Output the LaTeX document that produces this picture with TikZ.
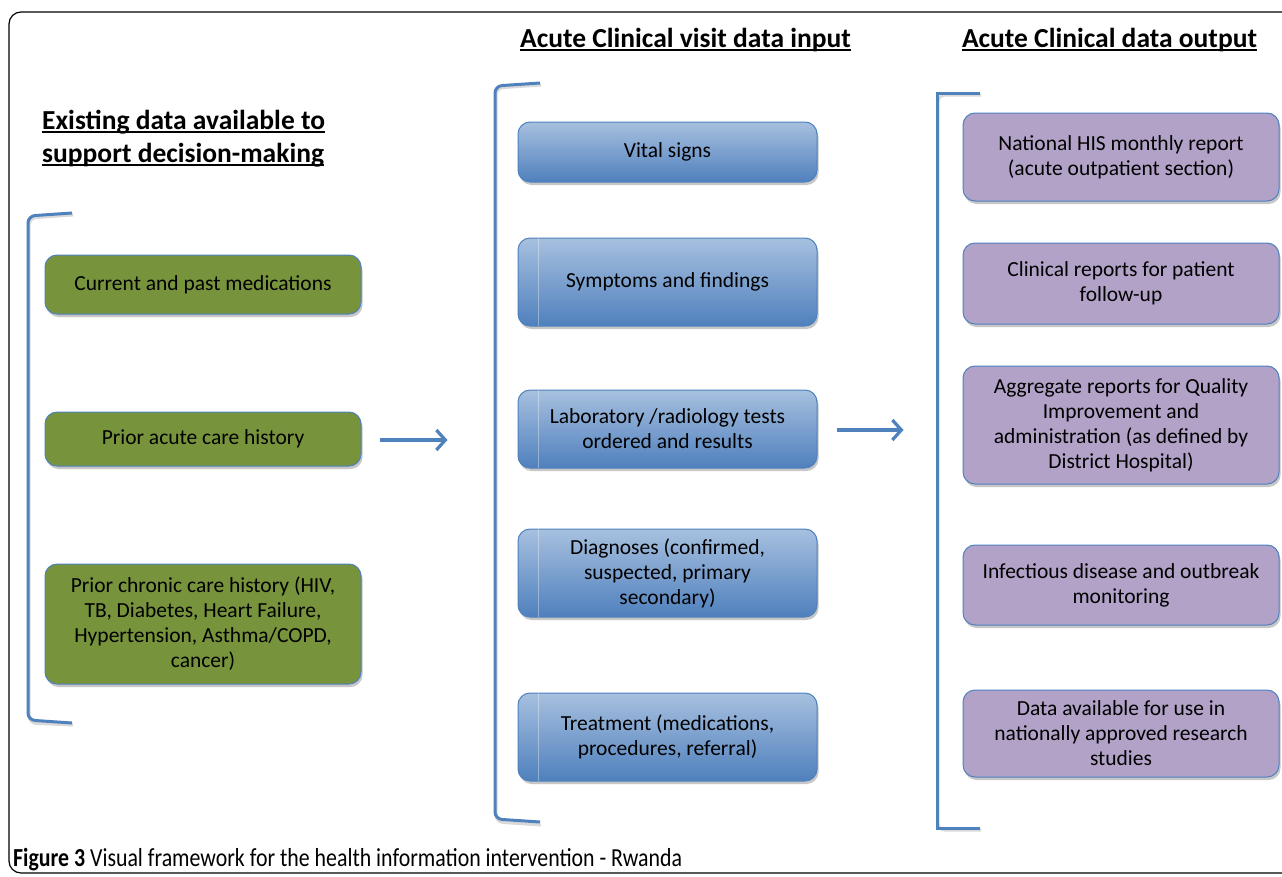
\documentclass[tikz,border=0pt]{standalone}
\usepackage{fontspec}
\setmainfont{Carlito}
\newfontfamily\capfont[FakeStretch=0.84]{Carlito}
\usetikzlibrary{arrows.meta,shadows,calc}
\definecolor{gfill}{HTML}{77933C}
\definecolor{pfill}{HTML}{B2A2C7}
\definecolor{btop}{HTML}{A7C0DF}
\definecolor{bbot}{HTML}{4F80BD}
\definecolor{bord}{HTML}{4F81BD}
\definecolor{brk}{HTML}{4F81BD}
\newcommand\ulin[1]{\setbox0\hbox{#1}\rlap{\rule[-3.5pt]{\wd0}{2pt}}\box0}
\begin{document}
\begin{tikzpicture}[x=1pt,y=-1pt,
  box/.style={rounded corners=12pt, draw=bord, line width=1pt, align=center,
    font=\fontsize{21.5}{25}\selectfont, inner sep=0pt, text=black,
    drop shadow={shadow xshift=1.5pt, shadow yshift=-3pt, fill=black!22, opacity=1}},
  gbox/.style={box, fill=gfill, minimum width=316pt},
  bbox/.style={box, top color=btop, bottom color=bbot, minimum width=299pt},
  pbox/.style={box, fill=pfill, minimum width=316pt},
  head/.style={font=\fontsize{27.5}{32}\selectfont\bfseries, inner sep=0pt},
  brack/.style={draw=brk, line width=3pt, rounded corners=7pt},
  brshadow/.style={draw=black!15, line width=3pt, rounded corners=7pt},
  arr/.style={draw=brk, line width=3.2pt, -{Straight Barb[length=9pt,width=20pt,line width=3.2pt]}}
]
\useasboundingbox (0,0) rectangle (1282,876);
\fill[white] (0,0) rectangle (1282,876);
% frame
\draw[line width=1.2pt, rounded corners=12pt] (9,12) rectangle (1300,873);

% headings
\node[head, anchor=base west] (h1) at (42,129) {\ulin{Existing data available to}};
\node[head, anchor=base west] (h2) at (42,162) {\ulin{support decision-making}};
\node[head, anchor=base] (h3) at (685.5,47) {\ulin{Acute Clinical visit data input}};
\node[head, anchor=base] (h4) at (1109.5,47) {\ulin{Acute Clinical data output}};

% brackets (shadows first)
\draw[brshadow] (73,215) -- (29,218) -- (29,723) -- (73,725);
\draw[brack] (72,213) -- (28,216) -- (28,720) -- (72,723);
\draw[brshadow] (541,85) -- (496,88) -- (496,822) -- (541,825);
\draw[brack] (540,83) -- (495,86) -- (495,819) -- (540,822);
\draw[brshadow] (981,95) -- (938,95) -- (938,830) -- (981,830);
\draw[brack, rounded corners=0pt] (980,93) -- (937,93) -- (937,828) -- (980,828);

% green boxes
\node[gbox, minimum height=59pt] (g1) at (203,284.5) {Current and past medications};
\node[gbox, minimum height=54pt] (g2) at (203,439) {Prior acute care history};
\node[gbox, minimum height=120pt] (g3) at (203,624) {Prior chronic care history (HIV,\\TB, Diabetes, Heart Failure,\\Hypertension, Asthma/COPD,\\cancer)};

% blue boxes
\node[bbox, minimum height=60pt] (b1) at (667.5,152) {Vital signs};
\node[bbox, minimum height=88pt] (b2) at (667.5,282) {Symptoms and findings};
\node[bbox, minimum height=78pt] (b3) at (667.5,429) {Laboratory /radiology tests\\ordered and results};
\node[bbox, minimum height=88pt] (b4) at (667.5,573) {Diagnoses (confirmed,\\suspected, primary\\secondary)};
\node[bbox, minimum height=88pt] (b5) at (667.5,737) {Treatment (medications,\\procedures, referral)};
\foreach \b in {b2,b3,b4,b5}{
  \draw[white, opacity=0.35, line width=0.7pt] ($(\b.north west)+(21,0.5)$) -- ($(\b.south west)+(21,-0.5)$);
}

% purple boxes
\node[pbox, minimum height=88pt] (p1) at (1121,157) {National HIS monthly report\\(acute outpatient section)};
\node[pbox, minimum height=81pt] (p2) at (1121,283.5) {Clinical reports for patient\\follow-up};
\node[pbox, minimum height=118pt] (p3) at (1121,425) {Aggregate reports for Quality\\Improvement and\\administration (as defined by\\District Hospital)};
\node[pbox, minimum height=80pt] (p4) at (1121,585) {Infectious disease and outbreak\\monitoring};
\node[pbox, minimum height=87pt] (p5) at (1121,733.5) {Data available for use in\\nationally approved research\\studies};

% arrows
\coordinate (a1s) at ($(g2.east)+(18,1)$);
\coordinate (a1e) at ($(g2.east -| b3.west)+(-70,1)$);
\draw[arr] (a1s) -- (a1e);
\coordinate (a2s) at ($(b3.east)+(19,1)$);
\coordinate (a2e) at ($(b3.east -| p3.west)+(-59,1)$);
\draw[arr] (a2s) -- (a2e);

% caption
\node[anchor=base west, inner sep=0pt, font=\capfont\fontsize{26}{30}\selectfont] (cap) at (13,866)
  {\textbf{Figure 3} Visual framework for the health information intervention - Rwanda};
\end{tikzpicture}
\end{document}
